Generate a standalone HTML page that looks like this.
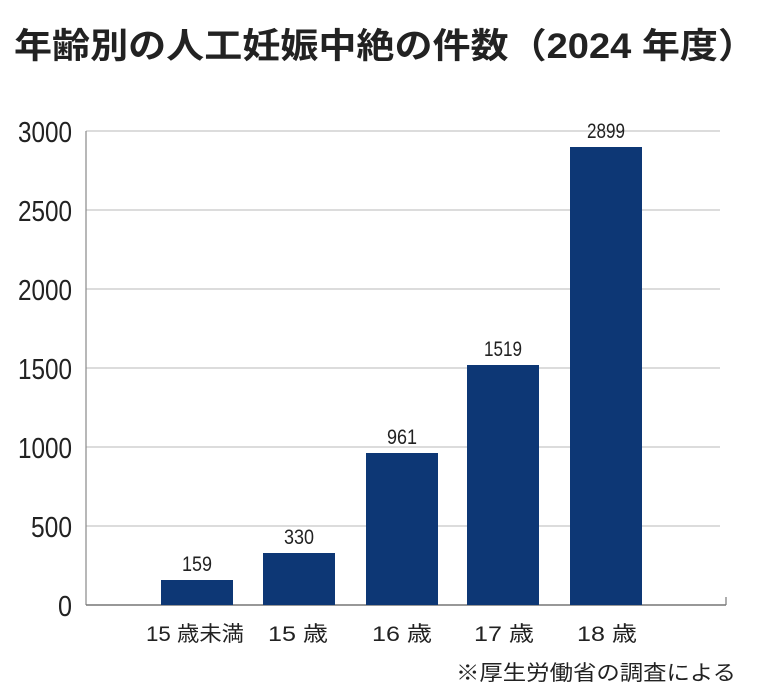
<!DOCTYPE html>
<html><head><meta charset="utf-8"><style>
html,body{margin:0;padding:0;background:#fff;}
svg{display:block;}
text{font-family:"Liberation Sans","Noto Sans CJK JP",sans-serif;fill:#222;}
.cjk{font-family:"Liberation Sans","Noto Sans CJK JP",sans-serif;}
</style></head><body>
<svg width="771" height="699" viewBox="0 0 771 699" xmlns="http://www.w3.org/2000/svg">
<text class="cjk" x="14" y="58" font-size="35" font-weight="bold" textLength="742" lengthAdjust="spacingAndGlyphs" fill="#1a1a1a">年齢別の人工妊娠中絶の件数（2024 年度）</text>
<g stroke="#c8c8c8" stroke-width="1.2">
<line x1="86" y1="131" x2="720" y2="131"/>
<line x1="86" y1="210" x2="720" y2="210"/>
<line x1="86" y1="289" x2="720" y2="289"/>
<line x1="86" y1="368" x2="720" y2="368"/>
<line x1="86" y1="447" x2="720" y2="447"/>
<line x1="86" y1="526" x2="720" y2="526"/>
</g>
<line x1="86" y1="131" x2="86" y2="605" stroke="#888" stroke-width="1.2"/>
<line x1="86" y1="605" x2="726" y2="605" stroke="#777" stroke-width="1.5"/>
<line x1="726" y1="597" x2="726" y2="605" stroke="#777" stroke-width="1.2"/>
<g font-size="29" lengthAdjust="spacingAndGlyphs">
<text x="18" y="142" textLength="54" lengthAdjust="spacingAndGlyphs">3000</text>
<text x="18" y="221" textLength="54" lengthAdjust="spacingAndGlyphs">2500</text>
<text x="18" y="300" textLength="54" lengthAdjust="spacingAndGlyphs">2000</text>
<text x="18" y="379" textLength="54" lengthAdjust="spacingAndGlyphs">1500</text>
<text x="18" y="458" textLength="54" lengthAdjust="spacingAndGlyphs">1000</text>
<text x="31" y="537" textLength="41" lengthAdjust="spacingAndGlyphs">500</text>
<text x="58" y="616" textLength="14" lengthAdjust="spacingAndGlyphs">0</text>
</g>
<g fill="#0d3775">
<rect x="161" y="580" width="72" height="25"/>
<rect x="263" y="553" width="72" height="52"/>
<rect x="366" y="453" width="72" height="152"/>
<rect x="467" y="365" width="72" height="240"/>
<rect x="570" y="147" width="72" height="458"/>
</g>
<g font-size="21">
<text x="182" y="571" textLength="30" lengthAdjust="spacingAndGlyphs">159</text>
<text x="284" y="544" textLength="30" lengthAdjust="spacingAndGlyphs">330</text>
<text x="387" y="444" textLength="30" lengthAdjust="spacingAndGlyphs">961</text>
<text x="484" y="356" textLength="38" lengthAdjust="spacingAndGlyphs">1519</text>
<text x="587" y="138" textLength="38" lengthAdjust="spacingAndGlyphs">2899</text>
</g>
<g font-size="21" class="cjk">
<text x="146" y="641" textLength="98" lengthAdjust="spacingAndGlyphs">15 歳未満</text>
<text x="268" y="641" textLength="60" lengthAdjust="spacingAndGlyphs">15 歳</text>
<text x="372" y="641" textLength="60" lengthAdjust="spacingAndGlyphs">16 歳</text>
<text x="474" y="641" textLength="60" lengthAdjust="spacingAndGlyphs">17 歳</text>
<text x="577" y="641" textLength="60" lengthAdjust="spacingAndGlyphs">18 歳</text>
</g>
<text class="cjk" x="456" y="680" font-size="21" textLength="280" lengthAdjust="spacingAndGlyphs">※厚生労働省の調査による</text>
</svg>
</body></html>
